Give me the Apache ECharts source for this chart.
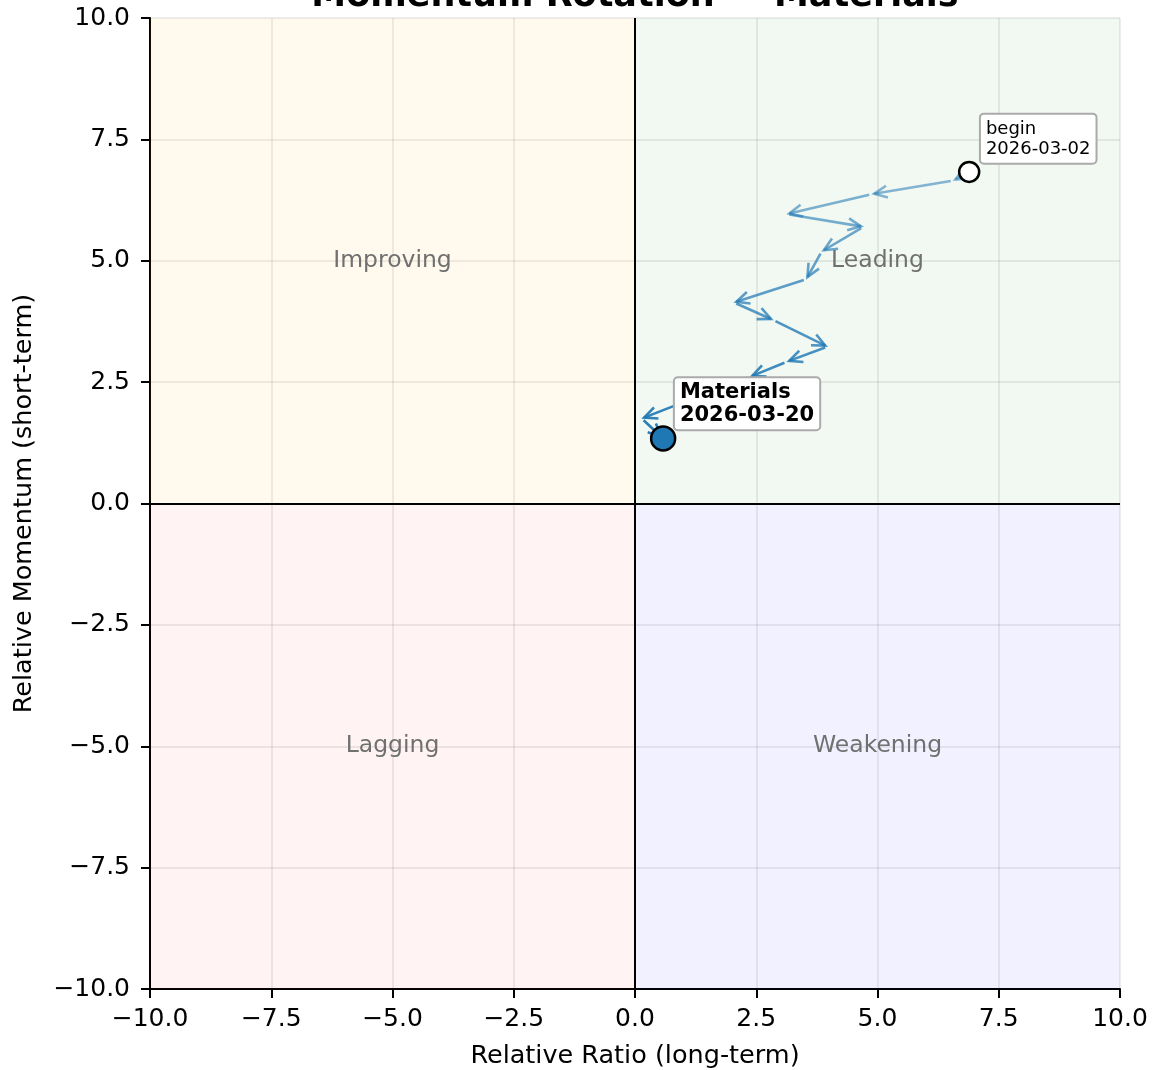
<!DOCTYPE html>
<html>
<head>
<meta charset="UTF-8" />
<title>Momentum Rotation — Materials</title>
<script src="https://cdn.jsdelivr.net/npm/echarts@6/dist/echarts.min.js"></script>
<style>
html, body { margin: 0; padding: 0; background: #fff; }
</style>
</head>
<body>
<div id="chart" style="width: 1154px; height: 1070px;"></div>
<script>
// trajectory (first = 2026-03-02, last = 2026-03-20)
var ratio = [6.89, 6.56, 4.88, 3.13, 4.71, 3.85, 3.53, 2.04, 2.85, 3.97, 3.13, 2.37, 1.26, 0.14, 0.58];
var momentum = [6.83, 6.65, 6.37, 5.96, 5.70, 5.19, 4.62, 4.14, 3.78, 3.23, 2.92, 2.61, 2.19, 1.75, 1.34];
var sectorName = "Materials";
var beginDate = "2026-03-02";
var endDate = "2026-03-20";

// axis ticks
var axisMin = -10, axisMax = 10, axisStep = 2.5;

// quadrants: name, centre, fill
var quadNames = ["Improving", "Leading", "Lagging", "Weakening"];
var quadCentres = [[-5, 5], [5, 5], [-5, -5], [5, -5]];
var quadColors = ["rgba(255,165,0,0.065)", "rgba(0,128,0,0.05)", "rgba(255,0,0,0.048)", "rgba(0,0,255,0.055)"];

var font = "DejaVu Sans";
var blue = "31,119,180";

function fmt(v) {
  return v.toFixed(1).replace("-", "\u2212");
}

// segments for the arrows
var segs = [];
for (var i = 0; i < ratio.length - 1; i++) {
  segs.push([ratio[i], momentum[i], ratio[i + 1], momentum[i + 1], i]);
}

var myChart = echarts.init(document.getElementById("chart"));

var quadAreas = [];
for (var q = 0; q < 4; q++) {
  var c = quadCentres[q];
  quadAreas.push([
    { name: quadNames[q], coord: [c[0] - 5, c[1] - 5], itemStyle: { color: quadColors[q] } },
    { coord: [c[0] + 5, c[1] + 5] }
  ]);
}

var option = {
  animation: false,
  backgroundColor: "#fff",
  graphic: [
    {
      type: "text",
      x: 635,
      y: -3,
      silent: true,
      style: {
        text: "Momentum Rotation \u2014 " + sectorName,
        textAlign: "center",
        textVerticalAlign: "middle",
        fontFamily: font, fontSize: 35, fontWeight: "bold", fill: "#000"
      }
    }
  ],
  grid: { left: 150, right: 34, top: 18, bottom: 81, containLabel: false, outerBoundsMode: "none" },
  xAxis: {
    type: "value",
    min: axisMin, max: axisMax, interval: axisStep,
    name: "Relative Ratio (long-term)",
    nameLocation: "middle",
    nameGap: 54,
    nameTextStyle: { fontFamily: font, fontSize: 25.5, color: "#000" },
    axisLine: { onZero: false, lineStyle: { color: "#000", width: 2 } },
    axisTick: { inside: false, length: 9, lineStyle: { color: "#000", width: 2 } },
    axisLabel: { margin: 18, fontFamily: font, fontSize: 25, color: "#000", formatter: fmt },
    splitLine: { show: true, lineStyle: { color: "rgba(0,0,0,0.07)", width: 2 } }
  },
  yAxis: {
    type: "value",
    min: axisMin, max: axisMax, interval: axisStep,
    name: "Relative Momentum (short-term)",
    nameLocation: "middle",
    nameGap: 113,
    nameTextStyle: { fontFamily: font, fontSize: 25.5, color: "#000" },
    axisLine: { show: true, onZero: false, lineStyle: { color: "#000", width: 2 } },
    axisTick: { show: true, inside: false, length: 9, lineStyle: { color: "#000", width: 2 } },
    axisLabel: { margin: 20, fontFamily: font, fontSize: 25, color: "#000", formatter: fmt },
    splitLine: { show: true, lineStyle: { color: "rgba(0,0,0,0.07)", width: 2 } }
  },
  series: [
    {
      // quadrant fills + zero lines
      type: "scatter",
      data: [],
      silent: true,
      z: 1,
      markArea: {
        silent: true,
        label: {
          show: true, position: "inside",
          fontFamily: font, fontSize: 23.5, color: "#707070"
        },
        data: quadAreas
      },
      markLine: {
        silent: true,
        symbol: "none",
        label: { show: false },
        lineStyle: { color: "#000", width: 2, type: "solid" },
        data: [{ xAxis: 0 }, { yAxis: 0 }]
      }
    },
    {
      type: "custom",
      z: 3,
      silent: true,
      data: segs,
      encode: { x: [0, 2], y: [1, 3] },
      renderItem: function (params, api) {
        var idx = api.value(4);
        var a = api.coord([api.value(0), api.value(1)]);
        var b = api.coord([api.value(2), api.value(3)]);
        var dx = b[0] - a[0], dy = b[1] - a[1];
        var len = Math.sqrt(dx * dx + dy * dy) || 1;
        var ux = dx / len, uy = dy / len;
        var s = 2.5;
        var ax = a[0] + ux * s, ay = a[1] + uy * s;
        var bx = b[0] - ux * s, by = b[1] - uy * s;
        var hl = 13, hw = 6;
        var left = [bx - ux * hl + uy * hw, by - uy * hl - ux * hw];
        var right = [bx - ux * hl - uy * hw, by - uy * hl + ux * hw];
        var op = 0.5 + 0.45 * idx / (segs.length - 1);
        var col = "rgba(" + blue + "," + op.toFixed(3) + ")";
        return {
          type: "group",
          children: [
            { type: "polyline", shape: { points: [[ax, ay], [bx, by]] }, style: { stroke: col, lineWidth: 2.6, fill: null } },
            { type: "polyline", shape: { points: [left, [bx, by], right] }, style: { stroke: col, lineWidth: 2.6, fill: null, lineJoin: "miter" } }
          ]
        };
      }
    },
    {
      // begin marker
      type: "scatter",
      z: 5,
      silent: true,
      symbol: "circle",
      symbolSize: 20,
      itemStyle: { color: "#fff", borderColor: "#000", borderWidth: 2.5, opacity: 1 },
      label: {
        show: true,
        position: [23, -46],
        align: "left",
        verticalAlign: "top",
        formatter: "begin\n" + beginDate,
        fontFamily: font, fontSize: 18, lineHeight: 20.5, color: "#000",
        backgroundColor: "#fff",
        borderColor: "#aaaaaa", borderWidth: 2, borderRadius: 3,
        padding: [4, 5, 3, 5]
      },
      data: [[ratio[0], momentum[0]]]
    },
    {
      // current position
      type: "scatter",
      z: 6,
      silent: true,
      symbol: "circle",
      symbolSize: 24,
      itemStyle: { color: "rgb(" + blue + ")", borderColor: "#000", borderWidth: 2.5, opacity: 1 },
      label: {
        show: true,
        position: [25, -47],
        align: "left",
        verticalAlign: "top",
        formatter: sectorName + "\n" + endDate,
        fontFamily: font, fontSize: 21, fontWeight: "bold", lineHeight: 23, color: "#000",
        backgroundColor: "#fff",
        borderColor: "#aaaaaa", borderWidth: 2, borderRadius: 3,
        padding: [3, 5, 2, 5]
      },
      data: [[ratio[ratio.length - 1], momentum[momentum.length - 1]]]
    }
  ]
};

myChart.setOption(option);
</script>
</body>
</html>
